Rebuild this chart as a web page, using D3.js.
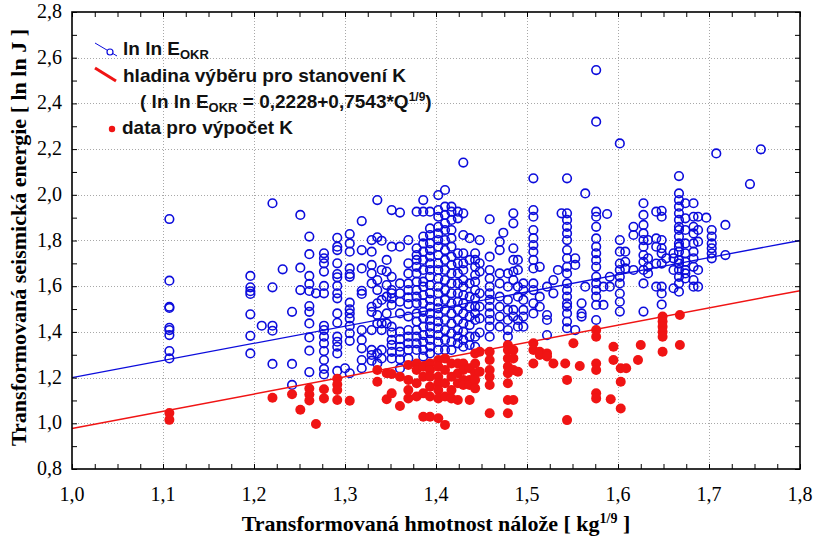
<!DOCTYPE html>
<html>
<head>
<meta charset="utf-8">
<script src="https://cdn.jsdelivr.net/npm/d3@7"></script>
<style>
  body { margin: 0; background: #fff; }
  svg { display: block; }
</style>
</head>
<body>
<div id="chart"></div>
<script>
// x positions (Q^1/9) with the ln ln E_OKR values
const blueColumns = [
    [1.107, [1.894, 1.624, 1.51, 1.505, 1.418, 1.408, 1.386, 1.316, 1.284]],
    [1.196, [1.645, 1.595, 1.578, 1.566, 1.477, 1.383, 1.306]],
    [1.2085, [1.427]],
    [1.2203, [1.963, 1.595, 1.427, 1.405, 1.26]],
    [1.2315, [1.674]],
    [1.2418, [1.488, 1.26, 1.168]],
    [1.2509, [1.912, 1.681, 1.583]],
    [1.2608, [1.817, 1.74, 1.645, 1.61, 1.579, 1.513, 1.488, 1.437, 1.376, 1.318, 1.224]],
    [1.2681, [1.569]],
    [1.2769, [1.744, 1.722, 1.70, 1.664, 1.601, 1.569, 1.427, 1.408, 1.379, 1.35, 1.316, 1.277, 1.238, 1.214]],
    [1.2915, [1.812, 1.773, 1.758, 1.70, 1.653, 1.639, 1.601, 1.569, 1.547, 1.481, 1.44, 1.379, 1.357, 1.335, 1.306, 1.229]],
    [1.30, [1.241]],
    [1.3052, [1.828, 1.787, 1.751, 1.678, 1.653, 1.641, 1.528, 1.499, 1.481, 1.459, 1.426, 1.394, 1.361, 1.219]],
    [1.3184, [1.885, 1.758, 1.678, 1.58, 1.566, 1.408, 1.365, 1.328, 1.277, 1.241]],
    [1.3293, [1.802, 1.751, 1.693, 1.656, 1.612, 1.51, 1.488, 1.408, 1.321, 1.299, 1.274]],
    [1.3355, [1.977, 1.814, 1.627, 1.583, 1.525, 1.474, 1.437, 1.306, 1.262]],
    [1.3403, [1.799, 1.671, 1.54, 1.437, 1.408, 1.321, 1.284]],
    [1.3458, [1.715, 1.664, 1.605, 1.554, 1.481, 1.437]],
    [1.3513, [1.933, 1.773, 1.641, 1.583, 1.569, 1.547, 1.518, 1.423, 1.397, 1.365, 1.343, 1.313, 1.284]],
    [1.3604, [1.922, 1.773, 1.612, 1.569, 1.532, 1.481, 1.401, 1.368, 1.335, 1.313, 1.28, 1.24]],
    [1.3696, [1.802, 1.70, 1.656, 1.612, 1.583, 1.551, 1.522, 1.467, 1.408, 1.379, 1.35, 1.321, 1.284]],
    [1.3787, [1.926, 1.766, 1.736, 1.715, 1.685, 1.656, 1.62, 1.583, 1.554, 1.525, 1.481, 1.445, 1.408, 1.379, 1.35, 1.321]],
    [1.386, [1.977, 1.926, 1.817, 1.787, 1.751, 1.715, 1.671, 1.62, 1.598, 1.561, 1.525, 1.488, 1.459, 1.423, 1.386, 1.357, 1.321, 1.292]],
    [1.3934, [1.926, 1.853, 1.824, 1.787, 1.758, 1.729, 1.70, 1.671, 1.641, 1.605, 1.569, 1.54, 1.51, 1.481, 1.452, 1.423, 1.394, 1.365, 1.335, 1.306]],
    [1.4025, [1.999, 1.933, 1.904, 1.86, 1.831, 1.802, 1.773, 1.736, 1.70, 1.671, 1.634, 1.598, 1.569, 1.532, 1.503, 1.474, 1.445, 1.416, 1.386, 1.357, 1.321]],
    [1.4099, [2.021, 1.948, 1.912, 1.875, 1.846, 1.802, 1.758, 1.715, 1.671, 1.627, 1.583, 1.54, 1.496, 1.452, 1.408, 1.365, 1.321]],
    [1.417, [1.948, 1.926, 1.89, 1.846, 1.81, 1.773, 1.729, 1.693, 1.656, 1.612, 1.569, 1.525, 1.481, 1.437, 1.394, 1.357, 1.321]],
    [1.424, [1.926, 1.897, 1.744, 1.70, 1.656, 1.612, 1.569, 1.532, 1.496, 1.452, 1.408, 1.379, 1.35]],
    [1.43, [2.141, 1.919, 1.824, 1.744, 1.70, 1.671, 1.627, 1.598, 1.561, 1.525, 1.481, 1.437, 1.401, 1.365, 1.335]],
    [1.437, [1.81, 1.715, 1.612, 1.554, 1.51, 1.467, 1.43, 1.379, 1.343]],
    [1.443, [1.744, 1.715, 1.685, 1.649, 1.62, 1.583, 1.547, 1.51, 1.481, 1.452, 1.379, 1.335]],
    [1.448, [1.802, 1.70, 1.664, 1.569, 1.51, 1.459, 1.397]],
    [1.459, [1.893, 1.729, 1.671, 1.634, 1.598, 1.569, 1.54, 1.51, 1.481, 1.452, 1.423, 1.379]],
    [1.47, [1.795, 1.758, 1.656, 1.612, 1.554, 1.51, 1.467, 1.423]],
    [1.474, [1.834]],
    [1.479, [1.656, 1.598, 1.54, 1.496, 1.452, 1.408, 1.379]],
    [1.485, [1.919, 1.875, 1.766, 1.715, 1.664, 1.627, 1.496, 1.467]],
    [1.49, [1.715, 1.671, 1.598, 1.554, 1.452, 1.423]],
    [1.496, [1.612, 1.583, 1.54, 1.496, 1.467, 1.423]],
    [1.507, [2.072, 1.933, 1.904, 1.846, 1.81, 1.78, 1.751, 1.715, 1.678, 1.612, 1.583, 1.525, 1.481]],
    [1.514, [1.685, 1.554, 1.51]],
    [1.522, [1.598, 1.474, 1.452, 1.386]],
    [1.529, [1.627, 1.569]],
    [1.534, [1.671]],
    [1.538, [1.919]],
    [1.544, [2.072, 1.919, 1.89, 1.86, 1.831, 1.802, 1.758, 1.722, 1.685, 1.656, 1.612, 1.583, 1.554, 1.525, 1.51, 1.481, 1.445, 1.416]],
    [1.553, [1.722, 1.693, 1.408]],
    [1.56, [1.525, 1.481, 1.467]],
    [1.564, [2.006, 1.598]],
    [1.576, [2.546, 2.32, 1.926, 1.904, 1.86, 1.809, 1.773, 1.744, 1.714, 1.685, 1.641, 1.612, 1.583, 1.554, 1.518, 1.452]],
    [1.584, [1.598, 1.518]],
    [1.588, [1.916]],
    [1.591, [1.641, 1.598]],
    [1.602, [2.225, 1.802, 1.751, 1.699, 1.671, 1.641, 1.612, 1.568, 1.532, 1.489]],
    [1.608, [1.751, 1.707, 1.678]],
    [1.617, [1.86, 1.824, 1.671]],
    [1.628, [1.963, 1.912, 1.868, 1.831, 1.802, 1.773, 1.736, 1.707, 1.671, 1.612, 1.489]],
    [1.633, [1.802, 1.722, 1.685, 1.656]],
    [1.642, [1.926, 1.809, 1.773, 1.699, 1.598]],
    [1.648, [1.93, 1.904, 1.802, 1.766, 1.744, 1.699, 1.598, 1.568, 1.52]],
    [1.653, [1.722]],
    [1.661, [1.744, 1.722, 1.671, 1.591]],
    [1.667, [2.082, 2.006, 1.977, 1.948, 1.919, 1.89, 1.86, 1.846, 1.817, 1.787, 1.773, 1.751, 1.714, 1.699, 1.671, 1.641, 1.612, 1.576]],
    [1.674, [1.963, 1.897, 1.846, 1.787, 1.744, 1.707, 1.671, 1.656, 1.634]],
    [1.683, [1.963, 1.904, 1.86, 1.831, 1.787, 1.751, 1.722, 1.685, 1.627, 1.598]],
    [1.688, [1.904, 1.846, 1.795, 1.671, 1.598]],
    [1.697, [1.9]],
    [1.703, [1.846, 1.817, 1.787, 1.766, 1.744, 1.722]],
    [1.708, [2.181]],
    [1.718, [1.868, 1.736]],
    [1.745, [2.047]],
    [1.757, [2.199]]
];

// points below the selection line ("data pro výpočet K")
const redColumns = [
    [1.107, [1.045, 1.015]],
    [1.2203, [1.112]],
    [1.2418, [1.127]],
    [1.2509, [1.059]],
    [1.2608, [1.152, 1.126, 1.10]],
    [1.2681, [0.997]],
    [1.2769, [1.149, 1.109]],
    [1.2915, [1.195, 1.17, 1.146, 1.102]],
    [1.3052, [1.099]],
    [1.3355, [1.233, 1.182]],
    [1.3458, [1.219, 1.105]],
    [1.3513, [1.216, 1.131]],
    [1.3604, [1.204, 1.076]],
    [1.3696, [1.255, 1.19, 1.146, 1.109]],
    [1.3787, [1.262, 1.233, 1.175, 1.117]],
    [1.386, [1.248, 1.204, 1.131, 1.029]],
    [1.3934, [1.262, 1.233, 1.204, 1.16, 1.117, 1.029]],
    [1.4025, [1.277, 1.248, 1.204, 1.175, 1.146, 1.109, 1.022]],
    [1.4099, [1.284, 1.233, 1.175, 1.117, 0.993]],
    [1.417, [1.262, 1.204, 1.146, 1.109]],
    [1.424, [1.262, 1.219, 1.175, 1.102]],
    [1.43, [1.262, 1.233, 1.19, 1.168]],
    [1.437, [1.241, 1.19, 1.168, 1.102]],
    [1.443, [1.306, 1.262, 1.219, 1.19, 1.153]],
    [1.448, [1.313, 1.226]],
    [1.459, [1.313, 1.277, 1.233, 1.204, 1.168, 1.044]],
    [1.479, [1.343, 1.321, 1.284, 1.248, 1.219, 1.175, 1.102, 1.044]],
    [1.485, [1.321, 1.284, 1.233, 1.102]],
    [1.49, [1.226]],
    [1.507, [1.35, 1.321, 1.262]],
    [1.514, [1.313, 1.299]],
    [1.522, [1.306, 1.292]],
    [1.529, [1.262]],
    [1.542, [1.262]],
    [1.544, [1.19, 1.014]],
    [1.551, [1.35]],
    [1.558, [1.251]],
    [1.576, [1.408, 1.379, 1.262, 1.233, 1.131, 1.109]],
    [1.592, [1.105]],
    [1.595, [1.335, 1.277]],
    [1.603, [1.241, 1.182, 1.065]],
    [1.609, [1.241]],
    [1.622, [1.277]],
    [1.625, [1.343]],
    [1.649, [1.467, 1.445, 1.423, 1.401, 1.379, 1.313]],
    [1.668, [1.474, 1.343]]
];

// fitted line and selection line: y = a + b * x
const blueFit = [0.45, 0.75];
const redFit = [0.2228, 0.7543];

const xMajor = [1.0, 1.1, 1.2, 1.3, 1.4, 1.5, 1.6, 1.7, 1.8];
const xTickLabels = ["1,0", "1,1", "1,2", "1,3", "1,4", "1,5", "1,6", "1,7", "1,8"];
const yMajor = [0.8, 1.0, 1.2, 1.4, 1.6, 1.8, 2.0, 2.2, 2.4, 2.6, 2.8];
const yTickLabels = ["0,8", "1,0", "1,2", "1,4", "1,6", "1,8", "2,0", "2,2", "2,4", "2,6", "2,8"];

const BLUE = "#0c0cdc";
const RED = "#f01414";
const serif = "'Liberation Serif', 'Times New Roman', serif";
const sans = "'Liberation Sans', Arial, sans-serif";

const W = 815, H = 540;
const pL = 72, pR = 800, pT = 12, pB = 469;

const svg = d3.select("#chart").append("svg")
    .attr("width", W)
    .attr("height", H);

const x = d3.scaleLinear().domain([1.0, 1.8]).range([pL, pR]);
const y = d3.scaleLinear().domain([0.8, 2.8]).range([pB, pT]);

// grid
const grid = svg.append("g")
    .attr("stroke", "#a8a8a8")
    .attr("stroke-width", 1)
    .attr("stroke-dasharray", "1,2");
grid.selectAll(".gx")
    .data(xMajor.slice(1, -1))
    .enter().append("line")
    .attr("x1", d => Math.round(x(d)) + 0.5).attr("x2", d => Math.round(x(d)) + 0.5)
    .attr("y1", pT).attr("y2", pB);
grid.selectAll(".gy")
    .data(yMajor.slice(1, -1))
    .enter().append("line")
    .attr("y1", d => Math.round(y(d)) + 0.5).attr("y2", d => Math.round(y(d)) + 0.5)
    .attr("x1", pL).attr("x2", pR);

const bluePts = blueColumns.flatMap(([cx, ys]) => ys.map(v => ({ x: cx, y: v })));
const redPts = redColumns.flatMap(([cx, ys]) => ys.map(v => ({ x: cx, y: v })));

const plot = svg.append("g");

plot.selectAll(".blue")
    .data(bluePts)
    .enter().append("circle")
    .attr("class", "blue")
    .attr("cx", d => x(d.x))
    .attr("cy", d => y(d.y))
    .attr("r", 4.3)
    .attr("fill", "none")
    .attr("stroke", BLUE)
    .attr("stroke-width", 1.6);

plot.selectAll(".red")
    .data(redPts)
    .enter().append("circle")
    .attr("class", "red")
    .attr("cx", d => x(d.x))
    .attr("cy", d => y(d.y))
    .attr("r", 5)
    .attr("fill", RED);

function drawFit(coef, color, w) {
    plot.append("line")
        .attr("x1", x(1.0)).attr("y1", y(coef[0] + coef[1] * 1.0))
        .attr("x2", x(1.8)).attr("y2", y(coef[0] + coef[1] * 1.8))
        .attr("stroke", color)
        .attr("stroke-width", w);
}
drawFit(blueFit, BLUE, 1.3);
drawFit(redFit, RED, 1.5);

// axes with inward ticks
const xMinor = d3.range(0, 33).map(i => 1.0 + i * 0.025);
const yMinor = d3.range(0, 21).map(i => 0.8 + i * 0.1);

const axB = svg.append("g")
    .attr("transform", `translate(0,${pB})`)
    .call(d3.axisBottom(x).tickValues(xMinor).tickSizeInner(-5).tickSizeOuter(0).tickFormat(""));
const axT = svg.append("g")
    .attr("transform", `translate(0,${pT})`)
    .call(d3.axisTop(x).tickValues(xMinor).tickSizeInner(-5).tickSizeOuter(0).tickFormat(""));
const axL = svg.append("g")
    .attr("transform", `translate(${pL},0)`)
    .call(d3.axisLeft(y).tickValues(yMinor).tickSizeInner(-5).tickSizeOuter(0).tickFormat(""));
const axR = svg.append("g")
    .attr("transform", `translate(${pR},0)`)
    .call(d3.axisRight(y).tickValues(yMinor).tickSizeInner(-5).tickSizeOuter(0).tickFormat(""));
[axB, axT, axL, axR].forEach(a => {
    a.select(".domain").remove();
    a.selectAll("line").attr("stroke", "#000").attr("stroke-width", 1);
});

svg.append("rect")
    .attr("x", pL).attr("y", pT)
    .attr("width", pR - pL).attr("height", pB - pT)
    .attr("fill", "none")
    .attr("stroke", "#000")
    .attr("stroke-width", 1.6);

// tick labels
svg.append("g").selectAll("text")
    .data(xMajor)
    .enter().append("text")
    .attr("x", d => x(d))
    .attr("y", pB + 32)
    .attr("text-anchor", "middle")
    .style("font-family", serif)
    .style("font-size", "20px")
    .text((d, i) => xTickLabels[i]);

svg.append("g").selectAll("text")
    .data(yMajor)
    .enter().append("text")
    .attr("x", pL - 10)
    .attr("y", d => y(d) + 6)
    .attr("text-anchor", "end")
    .style("font-family", serif)
    .style("font-size", "20px")
    .text((d, i) => yTickLabels[i]);

// axis titles
const xt = svg.append("text")
    .attr("x", (pL + pR) / 2)
    .attr("y", 531)
    .attr("text-anchor", "middle")
    .style("font-family", serif)
    .style("font-size", "22px")
    .style("font-weight", "bold");
xt.append("tspan").text("Transformovaná hmotnost nálože [ kg");
xt.append("tspan").attr("dy", -8).style("font-size", "14px").text("1/9");
xt.append("tspan").attr("dy", 8).text(" ]");

svg.append("text")
    .attr("transform", `translate(26,${(pT + pB) / 2 - 3}) rotate(-90)`)
    .attr("text-anchor", "middle")
    .style("font-family", serif)
    .style("font-size", "22px")
    .style("font-weight", "bold")
    .text("Transformovaná seismická energie [ ln ln J ]");

// legend
const lg = svg.append("g")
    .style("font-family", sans)
    .style("font-weight", "bold")
    .style("font-size", "19px")
    .attr("fill", "#111");

lg.append("line")
    .attr("x1", 95).attr("y1", 43).attr("x2", 117).attr("y2", 56)
    .attr("stroke", BLUE).attr("stroke-width", 1);
lg.append("circle")
    .attr("cx", 110).attr("cy", 52).attr("r", 3)
    .attr("fill", "#fff").attr("stroke", BLUE).attr("stroke-width", 1.2);
const t1 = lg.append("text").attr("x", 123).attr("y", 55);
t1.append("tspan").text("ln ln E");
t1.append("tspan").attr("dy", 4).style("font-size", "13px").text("OKR");

lg.append("line")
    .attr("x1", 95).attr("y1", 68).attr("x2", 116).attr("y2", 81)
    .attr("stroke", RED).attr("stroke-width", 3);
lg.append("text").attr("x", 123).attr("y", 82).text("hladina výběru pro stanovení K");

const t3 = lg.append("text").attr("x", 140).attr("y", 108);
t3.append("tspan").text("( ln ln E");
t3.append("tspan").attr("dy", 4).style("font-size", "13px").text("OKR");
t3.append("tspan").attr("dy", -4).text(" = 0,2228+0,7543*Q");
t3.append("tspan").attr("dy", -7).style("font-size", "12px").text("1/9");
t3.append("tspan").attr("dy", 7).text(")");

lg.append("circle")
    .attr("cx", 112).attr("cy", 129).attr("r", 3.2)
    .attr("fill", RED);
lg.append("text").attr("x", 122).attr("y", 134).text("data pro výpočet K");
</script>
</body>
</html>
